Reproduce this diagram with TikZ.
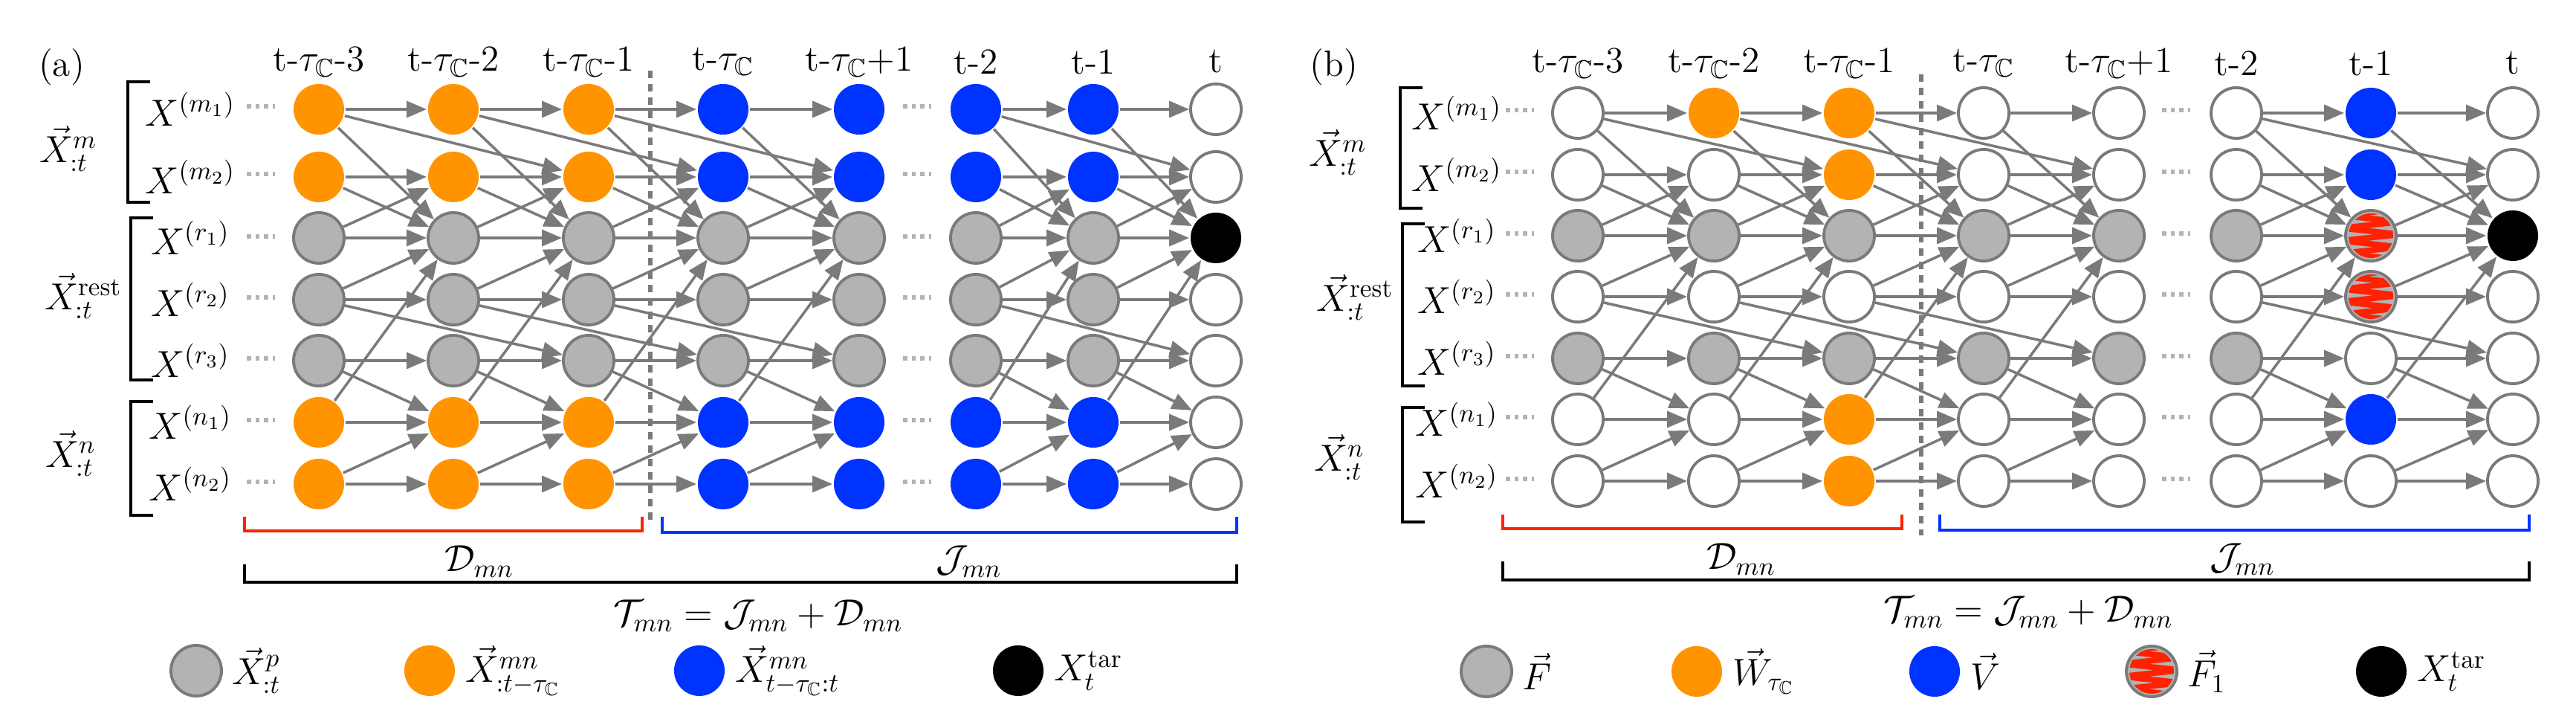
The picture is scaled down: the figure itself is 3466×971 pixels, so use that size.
\documentclass[tikz,border=0pt]{standalone}
\usepackage{amsmath,amssymb}
\usetikzlibrary{arrows.meta,decorations.pathmorphing,calc}
\definecolor{orng}{HTML}{FF9400}
\definecolor{blu}{HTML}{0033FF}
\definecolor{gry}{HTML}{B3B3B3}
\definecolor{edg}{HTML}{7A7A7A}
\definecolor{rd}{HTML}{FF2200}
\tikzset{
 nd/.style={circle,minimum size=0.68cm,inner sep=0pt,line width=1.1pt},
 nO/.style={nd,fill=orng},
 nB/.style={nd,fill=blu},
 nG/.style={nd,fill=gry,draw=edg},
 nW/.style={nd,fill=white,draw=edg},
 nK/.style={nd,fill=black},
 nZ/.style={nd,fill=gry,draw=edg},
 ar/.style={draw=edg,line width=1pt,-{Triangle[length=0.27cm,width=0.22cm]}},
 dt/.style={draw=gry,line width=0.055cm,dash pattern=on 0.055cm off 0.06cm},
 brk/.style={line width=1.2pt,line cap=rect},
 lbl/.style={font=\fontsize{14}{16}\selectfont},
 wave/.style={draw=rd,line width=2.2pt,decorate,decoration={zigzag,amplitude=0.4cm,segment length=0.17cm}},
 dsh/.style={draw=edg,line width=1.6pt,dash pattern=on 0.1cm off 0.08cm},
}
\newcommand\mkcol[4]{%
 \foreach \s [count=\r from 0] in {#4}{%
  \pgfmathsetmacro\yy{\ys[\r]}%
  \node[\s] (#1#2r\r) at (#3,\yy) {};}}
\newcommand\wavy[1]{%
 \begin{scope}\clip (#1.center) circle[radius=0.30cm];
 \draw[wave] ($(#1.center)+(0,-40)$) -- ($(#1.center)+(0,40)$);
 \end{scope}}
\begin{document}
\begin{tikzpicture}[x=0.01cm,y=-0.01cm,lbl]
\useasboundingbox (0,0) rectangle (3466,971);
% ---------- panel a
\def\ys{{147,238,320,403,485,568,651}}
\mkcol{a}{0}{429}{nO,nO,nG,nG,nG,nO,nO}
\mkcol{a}{1}{610}{nO,nO,nG,nG,nG,nO,nO}
\mkcol{a}{2}{792}{nO,nO,nG,nG,nG,nO,nO}
\mkcol{a}{3}{973}{nB,nB,nG,nG,nG,nB,nB}
\mkcol{a}{4}{1156}{nB,nB,nG,nG,nG,nB,nB}
\mkcol{a}{5}{1313}{nB,nB,nG,nG,nG,nB,nB}
\mkcol{a}{6}{1471}{nB,nB,nG,nG,nG,nB,nB}
\mkcol{a}{7}{1636}{nW,nW,nK,nW,nW,nW,nW}
\foreach \y in {143,234,318,400,482,565,648}{
 \draw[dt] (332,\y) -- (370,\y);
 \draw[dt] (1215,\y) -- (1253,\y);}
\node at (83,90) {(a)};
\foreach \x/\t in {429/t-$\tau_{\mathbb{C}}$-3,610/t-$\tau_{\mathbb{C}}$-2,792/t-$\tau_{\mathbb{C}}$-1,973/t-$\tau_{\mathbb{C}}$,1156/t-$\tau_{\mathbb{C}}$+1,1313/t-2,1471/t-1,1636/t}
 \node (ha\x) at (\x,83) {\t};
\foreach \y/\t in {147/m_1,238/m_2,320/r_1,403/r_2,485/r_3,568/n_1,651/n_2}
 \node (la\t) at (256,\y) {$X^{(\t)}$};
\draw[brk] (200,110) -- (172,110) -- (172,272) -- (200,272);
\draw[brk] (204,293) -- (176,293) -- (176,511) -- (204,511);
\draw[brk] (204,540) -- (176,540) -- (176,693) -- (204,693);
\node (lam) at (92,200) {$\vec{X}^{m}_{:t}$};
\node (lar) at (112,398) {$\vec{X}^{\mathrm{rest}}_{:t}$};
\node (lan) at (95,610) {$\vec{X}^{n}_{:t}$};
\draw[dsh] (875,95) -- (875,700);
\draw[rd,line width=0.9pt] (329,695) -- (329,714) -- (864,714) -- (864,695);
\draw[blu,line width=0.9pt] (891,695) -- (891,716) -- (1664,716) -- (1664,695);
\node (da) at (645,755) {$\mathcal{D}_{mn}$};
\node (ja) at (1304,755) {$\mathcal{J}_{mn}$};
\draw[line width=1.3pt] (329,759) -- (329,783) -- (1664,783) -- (1664,759);
\node (ta) at (1020,828) {$\mathcal{T}_{mn}=\mathcal{J}_{mn}+\mathcal{D}_{mn}$};
\node[nG] (lg1) at (264,902) {};
\node[anchor=west] at (300,902) {$\vec{X}^{p}_{:t}$};
\node[nO] (lg2) at (578,902) {};
\node[anchor=west] at (614,902) {$\vec{X}^{mn}_{:t-\tau_{\mathbb{C}}}$};
\node[nB] (lg3) at (941,902) {};
\node[anchor=west] at (977,902) {$\vec{X}^{mn}_{t-\tau_{\mathbb{C}}:t}$};
\node[nK] (lg4) at (1370,902) {};
\node[anchor=west] at (1406,902) {$X^{\mathrm{tar}}_{t}$};
% ---------- panel b
\def\ys{{152,235,317,399,482,564,647}}
\mkcol{b}{0}{2123}{nW,nW,nG,nW,nG,nW,nW}
\mkcol{b}{1}{2306}{nO,nW,nG,nW,nG,nW,nW}
\mkcol{b}{2}{2488}{nO,nO,nG,nW,nG,nO,nO}
\mkcol{b}{3}{2669}{nW,nW,nG,nW,nG,nW,nW}
\mkcol{b}{4}{2851}{nW,nW,nG,nW,nG,nW,nW}
\mkcol{b}{5}{3009}{nW,nW,nG,nW,nG,nW,nW}
\mkcol{b}{6}{3190}{nB,nB,nZ,nZ,nW,nB,nW}
\mkcol{b}{7}{3381}{nW,nW,nK,nW,nW,nW,nW}
\wavy{b6r2}
\wavy{b6r3}
\foreach \y in {148,231,314,396,479,561,644}{
 \draw[dt] (2026,\y) -- (2064,\y);
 \draw[dt] (2909,\y) -- (2947,\y);}
\node at (1795,90) {(b)};
\foreach \x/\t in {2123/t-$\tau_{\mathbb{C}}$-3,2306/t-$\tau_{\mathbb{C}}$-2,2488/t-$\tau_{\mathbb{C}}$-1,2669/t-$\tau_{\mathbb{C}}$,2851/t-$\tau_{\mathbb{C}}$+1,3009/t-2,3190/t-1,3381/t}
 \node (hb\x) at (\x,85) {\t};
\foreach \y/\t in {152/m_1,235/m_2,317/r_1,399/r_2,482/r_3,564/n_1,647/n_2}
 \node (lb\t) at (1960,\y) {$X^{(\t)}$};
\draw[brk] (1912,118) -- (1884,118) -- (1884,280) -- (1912,280);
\draw[brk] (1915,301) -- (1887,301) -- (1887,519) -- (1915,519);
\draw[brk] (1915,548) -- (1887,548) -- (1887,702) -- (1915,702);
\node (lbm) at (1800,205) {$\vec{X}^{m}_{:t}$};
\node (lbr) at (1823,400) {$\vec{X}^{\mathrm{rest}}_{:t}$};
\node (lbn) at (1802,615) {$\vec{X}^{n}_{:t}$};
\draw[dsh] (2585,100) -- (2585,720);
\draw[rd,line width=0.9pt] (2022,692) -- (2022,711) -- (2559,711) -- (2559,692);
\draw[blu,line width=0.9pt] (2610,692) -- (2610,713) -- (3403,713) -- (3403,692);
\node (db) at (2343,752) {$\mathcal{D}_{mn}$};
\node (jb) at (3017,752) {$\mathcal{J}_{mn}$};
\draw[line width=1.3pt] (2022,755) -- (2022,780) -- (3403,780) -- (3403,755);
\node (tb) at (2729,823) {$\mathcal{T}_{mn}=\mathcal{J}_{mn}+\mathcal{D}_{mn}$};
\node[nG] (lh1) at (2000,903) {};
\node[anchor=west] at (2036,903) {$\vec{F}$};
\node[nO] (lh2) at (2283,903) {};
\node[anchor=west] at (2319,903) {$\vec{W}_{\tau_{\mathbb{C}}}$};
\node[nB] (lh3) at (2603,903) {};
\node[anchor=west] at (2639,903) {$\vec{V}$};
\node[nZ] (lh4) at (2895,903) {};
\wavy{lh4}
\node[anchor=west] at (2931,903) {$\vec{F}_{1}$};
\node[nK] (lh5) at (3204,903) {};
\node[anchor=west] at (3240,903) {$X^{\mathrm{tar}}_{t}$};
% ---------- edges
\foreach \p in {a,b}{
 \foreach \c in {0,1,2,3,5,6}{
  \pgfmathtruncatemacro\n{\c+1}
  \foreach \r in {0,...,6}{\draw[ar] (\p\c r\r) -- (\p\n r\r);}
  \foreach \i/\j in {0/2,1/2,2/1,3/2,4/5,5/2,6/5}{\draw[ar] (\p\c r\i) -- (\p\n r\j);}
 }
 \foreach \c in {0,1,2,5}{
  \pgfmathtruncatemacro\n{\c+2}
  \foreach \i/\j in {0/1,3/4}{\draw[ar] (\p\c r\i) -- (\p\n r\j);}
 }
}
\end{tikzpicture}
\end{document}
